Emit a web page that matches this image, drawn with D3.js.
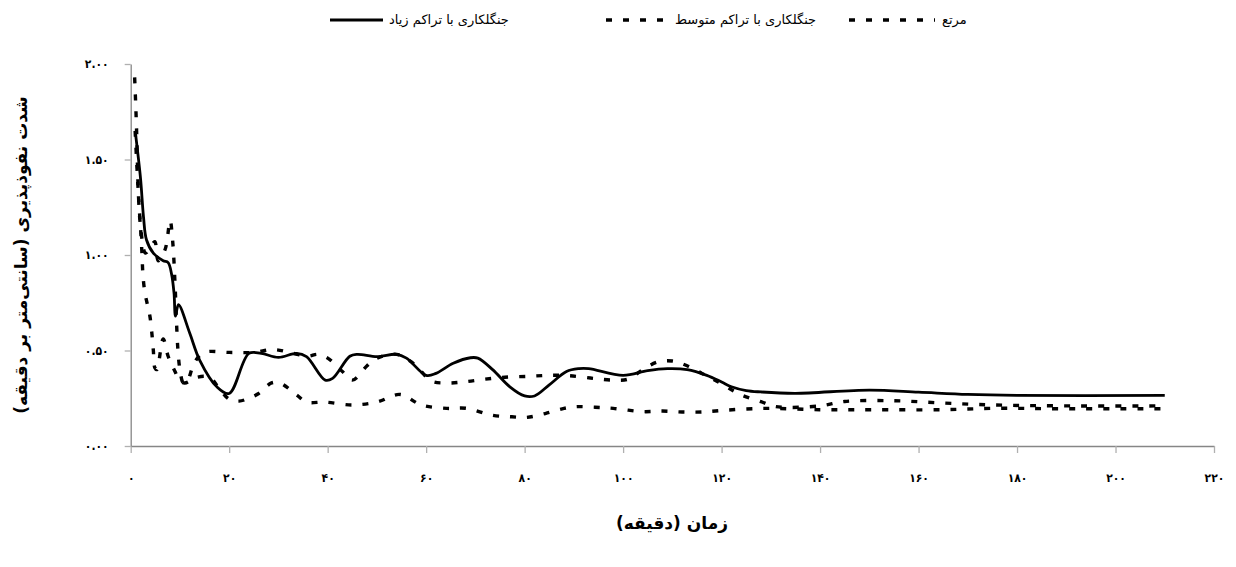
<!DOCTYPE html>
<html>
<head>
<meta charset="utf-8">
<script src="https://cdn.jsdelivr.net/npm/d3@7"></script>
<style>
  html, body { margin: 0; padding: 0; background: #fff; }
  svg { display: block; }
  text { font-family: "DejaVu Sans", "Noto Sans", sans-serif; fill: #000; }
</style>
</head>
<body>
<svg id="chart" width="1236" height="567"></svg>
<script>
// Infiltration rate (cm/min) against time (min) for three land covers
const seriesNames = ["جنگلکاری با تراکم زیاد", "جنگلکاری با تراکم متوسط", "مرتع"];

// High-density afforestation: [time, rate]
const highDensity = [
  [1, 1.63], [2, 1.40], [2.6, 1.20], [3.2, 1.08], [4.6, 1.01], [6.6, 0.97], [7.6, 0.96],
  [8.3, 0.90], [8.8, 0.80], [9.1, 0.68], [9.7, 0.74], [12, 0.59], [14, 0.45], [17.5, 0.31],
  [20, 0.275], [24, 0.485], [26.5, 0.485], [30, 0.464], [33.7, 0.485], [35.7, 0.468],
  [39.5, 0.345], [41, 0.354], [44.5, 0.47], [46, 0.48], [50, 0.468], [54, 0.48], [56, 0.46],
  [60, 0.37], [62, 0.38], [65.5, 0.433], [69, 0.462], [70.5, 0.46], [73.5, 0.40], [77, 0.31],
  [80, 0.262], [82, 0.262], [85, 0.32], [88.5, 0.39], [91, 0.405], [93, 0.405], [100, 0.37],
  [105, 0.395], [109, 0.405], [113, 0.40], [117, 0.37], [120, 0.335], [122, 0.31], [125, 0.29],
  [128, 0.283], [135, 0.276], [150, 0.293], [160, 0.282], [170, 0.27], [180, 0.265], [210, 0.265]
];

// Medium-density afforestation: [time, rate]
const mediumDensity = [
  [0.9, 1.65], [1.5, 1.35], [2, 1.15], [3, 1.01], [4, 1.04], [4.9, 1.07], [5.6, 0.97], [7, 1.03],
  [8, 1.18], [8.5, 1.08], [9, 0.85], [9.3, 0.65], [9.6, 0.50], [10, 0.40], [10.7, 0.33],
  [11.5, 0.34], [13, 0.44], [15, 0.49], [20, 0.49], [25, 0.49], [29, 0.505], [33, 0.485],
  [36, 0.47], [38, 0.48], [40, 0.46], [43, 0.39], [45, 0.345], [48, 0.42], [50, 0.46], [54, 0.48],
  [57, 0.44], [59, 0.39], [61, 0.34], [64.5, 0.33], [68, 0.337], [72, 0.35], [76, 0.36],
  [81, 0.365], [85, 0.37], [89, 0.368], [94, 0.354], [98, 0.345], [101, 0.35], [104, 0.40],
  [107, 0.44], [110, 0.445], [113, 0.42], [116, 0.38], [118, 0.354], [121, 0.31], [124, 0.267],
  [128, 0.232], [131, 0.206], [140, 0.21], [145, 0.233], [155, 0.237], [165, 0.225],
  [175, 0.215], [190, 0.21], [210, 0.21]
];

// Rangeland: [time, rate]
const rangeland = [
  [0.8, 1.93], [1.0, 1.80], [1.2, 1.65], [1.35, 1.50], [1.45, 1.40], [1.6, 1.30], [1.9, 1.18],
  [2.1, 1.10], [2.3, 1.00], [2.5, 0.89], [2.9, 0.80], [3.4, 0.74], [3.9, 0.68], [4.3, 0.59],
  [4.6, 0.50], [4.9, 0.41], [5.3, 0.40], [6.6, 0.56], [7.6, 0.47], [9, 0.39], [10, 0.34],
  [11, 0.33], [13.5, 0.36], [16, 0.36], [18, 0.30], [20, 0.245], [22, 0.235], [24, 0.25],
  [26, 0.275], [28.6, 0.33], [30.3, 0.33], [33.7, 0.267], [35.7, 0.23], [39.5, 0.23],
  [45, 0.215], [50, 0.23], [54.7, 0.27], [59, 0.215], [64.2, 0.197], [68.2, 0.197], [73.6, 0.16],
  [77.4, 0.153], [80.4, 0.15], [84.2, 0.17], [88, 0.197], [90.6, 0.206], [94.3, 0.203],
  [98, 0.197], [104, 0.18], [108, 0.183], [112, 0.178], [116, 0.178], [120, 0.186], [125, 0.194],
  [130, 0.197], [140, 0.19], [150, 0.19], [165, 0.19], [175, 0.197], [190, 0.195], [210, 0.195]
];

const xTicks = [0, 20, 40, 60, 80, 100, 120, 140, 160, 180, 200, 220];
const yTicks = [0, 0.5, 1, 1.5, 2];
const xTitle = "زمان (دقیقه)";
const yTitle = "شدت نفوذپذیری (سانتی‌متر بر دقیقه)";

const faDigits = "۰۱۲۳۴۵۶۷۸۹";
const toFa = s => String(s).replace(/\d/g, d => faDigits[+d]);

const svg = d3.select("#chart");
const x = d3.scaleLinear().domain([0, 220]).range([130.7, 1214]);
const y = d3.scaleLinear().domain([0, 2]).range([446, 64]);

// Axes
const axisColor = "#868686";
const gx = svg.append("g").attr("transform", `translate(0,${y(0)})`)
  .call(d3.axisBottom(x).tickValues(xTicks).tickSize(7).tickSizeOuter(0).tickPadding(20)
    .tickFormat(d => toFa(d)));
const gy = svg.append("g").attr("transform", `translate(${x(0)},0)`)
  .call(d3.axisLeft(y).tickValues(yTicks).tickSize(6).tickSizeOuter(0).tickPadding(16)
    .tickFormat(d => toFa(d3.format(".2f")(d))));
[gx, gy].forEach(g => {
  g.select(".domain").attr("stroke", axisColor).attr("stroke-width", 1.3);
  g.selectAll(".tick line").attr("stroke", "#b0b0b0").attr("stroke-width", 1.3);
  g.selectAll(".tick text").attr("font-size", 12).attr("font-weight", "bold")
    .style("font-family", '"DejaVu Sans Condensed", "DejaVu Sans", sans-serif');
});

// Series lines
const line = d3.line().x(d => x(d[0])).y(d => y(d[1])).curve(d3.curveCatmullRom.alpha(0.5));
const styles = [
  { data: highDensity, dash: null, width: 2.8 },
  { data: mediumDensity, dash: "6,11", width: 3.4 },
  { data: rangeland, dash: "6,11", width: 3.4 }
];
styles.slice().reverse().forEach(s => {
  svg.append("path").datum(s.data).attr("d", line)
    .attr("fill", "none").attr("stroke", "#000").attr("stroke-width", s.width)
    .attr("stroke-linejoin", "round")
    .attr("stroke-dasharray", s.dash);
});

// Legend: sample mark on the left, label to its right
const legendY = 20;
const legendItems = [
  { m0: 330, m1: 383, textStart: 389 },
  { m0: 606, m1: 668, textStart: 675 },
  { m0: 849, m1: 935, textStart: 942 }
];
legendItems.forEach((it, i) => {
  svg.append("line").attr("x1", it.m0).attr("x2", it.m1).attr("y1", legendY).attr("y2", legendY)
    .attr("stroke", "#000").attr("stroke-width", styles[i].width)
    .attr("stroke-dasharray", styles[i].dash);
  svg.append("text").attr("x", it.textStart).attr("y", legendY + 4).attr("text-anchor", "start")
    .attr("font-size", 13).text(seriesNames[i]);
});

// Axis titles
svg.append("text").attr("x", 672).attr("y", 529).attr("text-anchor", "middle")
  .attr("font-size", 17).attr("font-weight", "bold").text(xTitle);
svg.append("text").attr("transform", "translate(27,255) rotate(-90)").attr("text-anchor", "middle")
  .attr("font-size", 17).attr("font-weight", "bold").text(yTitle);
</script>
</body>
</html>
